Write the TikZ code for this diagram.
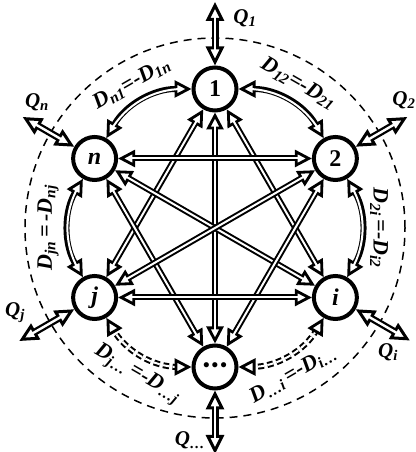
\documentclass[tikz,border=0pt]{standalone}
\usepackage{fontspec}
\setmainfont{Liberation Serif}
\usetikzlibrary{arrows.meta,calc}
\tikzset{
  OT/.tip={Triangle[fill=white,length=17pt,width=17pt,line width=2.8pt]},
  OQ/.tip={Triangle[fill=white,length=19pt,width=18pt,line width=3pt]},
}
\begin{document}
\begin{tikzpicture}[x=1pt,y=1pt,
  nd/.style={circle,draw,line width=4pt,minimum size=43pt,inner sep=0pt,fill=white,
    font=\fontsize{24}{26}\selectfont\bfseries},
  conn/.style={line width=6pt,arrows={OT-OT},
    postaction={draw=white,line width=2pt,arrows=-,shorten <=9pt,shorten >=9pt}},
  qconn/.style={line width=7pt,arrows={OQ-OQ},
    postaction={draw=white,line width=2.4pt,arrows=-,shorten <=10pt,shorten >=10pt}},
  dconn/.style={line width=6pt,dash pattern=on 6pt off 3.5pt,shorten <=13pt,shorten >=13pt,
    postaction={draw=white,line width=2pt}},
  tipsonly/.style={line width=6pt,arrows={OT-OT},dash pattern=on 0pt off 2000pt},
  circd/.style={line width=1.5pt,dash pattern=on 8pt off 6pt},
  lbl/.style={font=\fontsize{22}{24}\selectfont\bfseries\itshape,inner sep=1pt},
  ql/.style={font=\fontsize{21}{23}\selectfont\bfseries\itshape,inner sep=0pt},
  arcb/.style={bend left=30}]
\useasboundingbox (0,0) rectangle (415,452);
\coordinate (C) at (215,224);
\draw[circd] (C) circle (190);
\node[nd] (n1) at ($(C)+(90:139)$) {1};
\node[nd] (n2) at ($(C)+(30:139)$) {2};
\node[nd] (ni) at ($(C)+(-30:139)$) {\itshape i};
\node[nd] (nd) at ($(C)+(-90:139)$) {\fontsize{19}{19}\selectfont •\hspace{2pt}•\hspace{2pt}•};
\node[nd] (nj) at ($(C)+(-150:139)$) {\itshape j};
\node[nd] (nn) at ($(C)+(150:139)$) {\itshape n};
% internal edges
\foreach \a/\b in {n1/nj,n1/nd,n1/ni,nn/n2,nn/ni,nn/nd,n2/nj,n2/nd,nj/ni}
  \draw[conn] (\a) -- (\b);
% adjacent arcs
\draw[conn] (n1) to[arcb] (n2);
\draw[conn] (n2) to[arcb] (ni);
\draw[dconn] (ni) to[arcb] (nd);
\draw[tipsonly] (ni) to[arcb] (nd);
\draw[dconn] (nd) to[arcb] (nj);
\draw[tipsonly] (nd) to[arcb] (nj);
\draw[conn] (nj) to[arcb] (nn);
\draw[conn] (nn) to[arcb] (n1);
% Q arrows
\coordinate (q1) at ($(C)+(90:226)$);
\coordinate (q2) at ($(C)+(30:222)$);
\coordinate (qi) at ($(C)+(-30:225)$);
\coordinate (qd) at ($(C)+(-90:226)$);
\coordinate (qj) at ($(C)+(-150:226)$);
\coordinate (qn) at ($(C)+(150:222)$);
\draw[qconn] (n1) -- (q1);
\draw[qconn] (n2) -- (q2);
\draw[qconn] (ni) -- (qi);
\draw[qconn] (nd) -- (qd);
\draw[qconn] (nj) -- (qj);
\draw[qconn] (nn) -- (qn);
% Q labels
\node[ql] (lq1) at (245,434) {Q\textsubscript{1}};
\node[ql] (lq2) at (404,352) {Q\textsubscript{2}};
\node[ql] (lqn) at (37,350) {Q\textsubscript{n}};
\node[ql] (lqj) at (15,139) {Q\textsubscript{j}};
\node[ql] (lqi) at (388,100) {Q\textsubscript{i}};
\node[ql] (lqd) at (190,12) {Q\textsubscript{…}};
% D labels
\node[lbl,rotate=-30] (d12) at ($(C)+(60:167)$) {D\textsubscript{12}=-D\textsubscript{21}};
\node[lbl,rotate=30] (dn1) at ($(C)+(120:167)$) {D\textsubscript{n1}=-D\textsubscript{1n}};
\node[lbl,rotate=-90] (d2i) at ($(C)+(0:164)$) {D\textsubscript{2i}\,=-D\textsubscript{i2}};
\node[lbl,rotate=90] (djn) at ($(C)+(180:167)$) {D\textsubscript{jn}\,=\,-D\textsubscript{nj}};
\node[lbl,rotate=-30] (djd) at ($(C)+(242:166)$) {D\textsubscript{j…}\,=-D\textsubscript{…j}};
\node[lbl,rotate=30] (ddi) at ($(C)+(298:166)$) {D\textsubscript{…i}\,=-D\textsubscript{i…}};
\end{tikzpicture}
\end{document}
